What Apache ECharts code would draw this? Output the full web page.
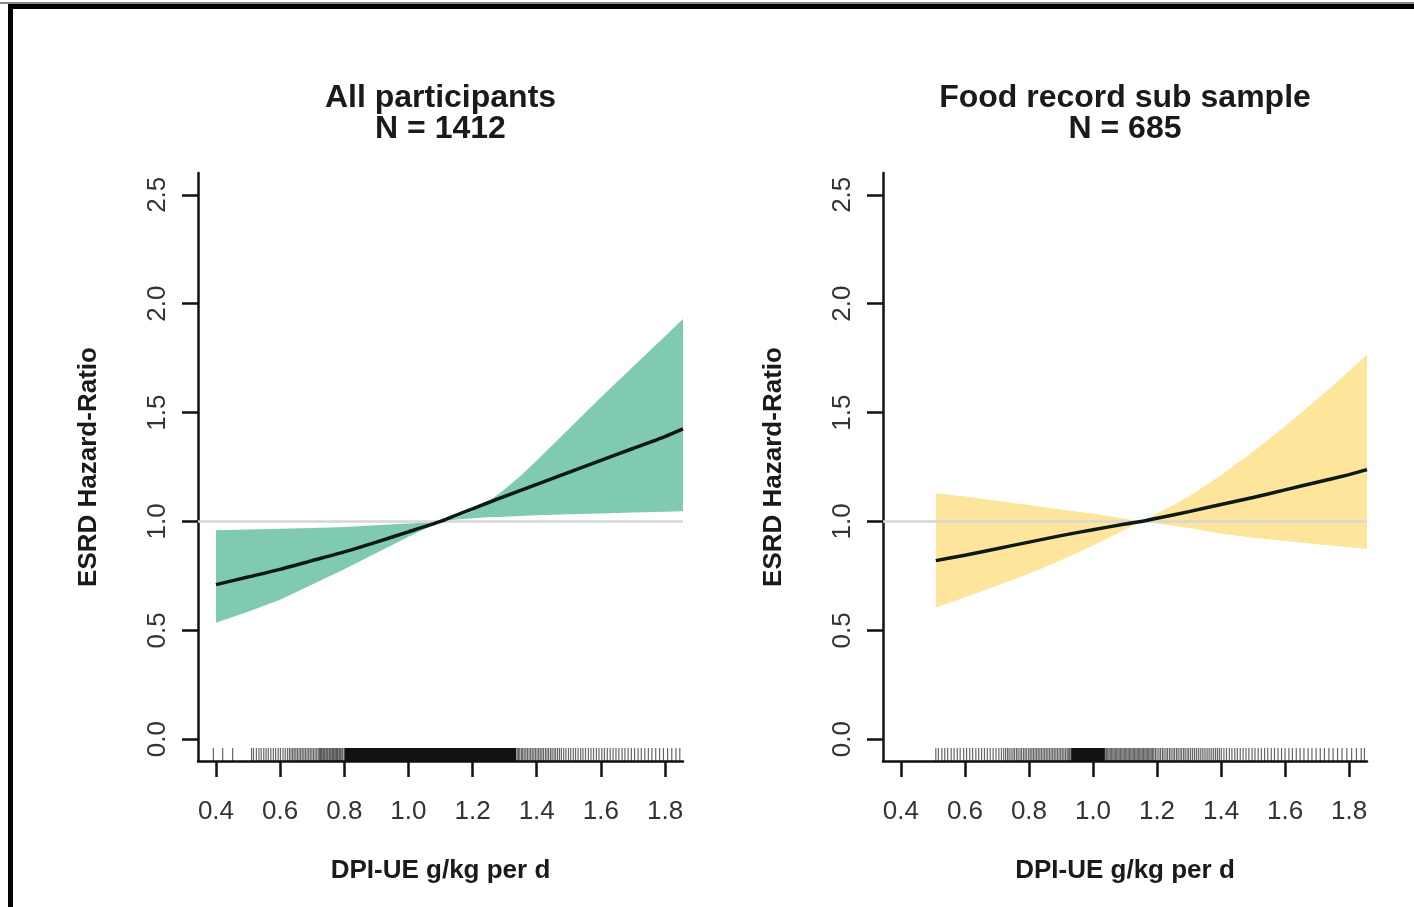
<!DOCTYPE html>
<html>
<head>
<meta charset="utf-8">
<script src="https://cdn.jsdelivr.net/npm/echarts@6/dist/echarts.min.js"></script>
<style>
html,body{margin:0;padding:0;background:#fff;}
#chart{width:1414px;height:907px;}
</style>
</head>
<body>
<div id="chart"></div>
<script>
// ---------- data ----------
const panelTitles = ['All participants\nN = 1412', 'Food record sub sample\nN = 685'];
const xAxisTitle = 'DPI-UE g/kg per d';
const yAxisTitle = 'ESRD Hazard-Ratio';
const xTicks = [0.4, 0.6, 0.8, 1.0, 1.2, 1.4, 1.6, 1.8];
const yTicks = [0.0, 0.5, 1.0, 1.5, 2.0, 2.5];
const refLevel = 1.0;

// Left panel: all participants
const xLeft     = [0.40, 0.50, 0.60, 0.70, 0.80, 0.90, 1.00, 1.10, 1.15, 1.20, 1.25, 1.30, 1.35, 1.40, 1.50, 1.60, 1.70, 1.80, 1.856];
const fitLeft   = [0.71, 0.745, 0.78, 0.82, 0.86, 0.905, 0.952, 1.00, 1.029, 1.058, 1.087, 1.115, 1.143, 1.17, 1.225, 1.28, 1.335, 1.39, 1.425];
const lowerLeft = [0.535, 0.585, 0.64, 0.71, 0.78, 0.855, 0.93, 1.00, 1.009, 1.015, 1.019, 1.022, 1.025, 1.028, 1.033, 1.037, 1.041, 1.045, 1.047];
const upperLeft = [0.96, 0.963, 0.966, 0.97, 0.975, 0.982, 0.99, 1.00, 1.018, 1.048, 1.092, 1.148, 1.21, 1.28, 1.425, 1.57, 1.71, 1.85, 1.93];

// Right panel: food record sub sample
const xRight     = [0.509, 0.60, 0.70, 0.80, 0.90, 1.00, 1.10, 1.15, 1.20, 1.30, 1.40, 1.50, 1.60, 1.70, 1.80, 1.856];
const fitRight   = [0.82, 0.845, 0.875, 0.905, 0.935, 0.962, 0.988, 1.00, 1.015, 1.045, 1.078, 1.11, 1.145, 1.18, 1.215, 1.238];
const lowerRight = [0.605, 0.652, 0.705, 0.76, 0.822, 0.89, 0.962, 1.00, 0.99, 0.97, 0.945, 0.925, 0.91, 0.895, 0.882, 0.875];
const upperRight = [1.13, 1.115, 1.095, 1.075, 1.055, 1.035, 1.012, 1.00, 1.035, 1.115, 1.212, 1.32, 1.437, 1.56, 1.69, 1.765];

// Rug marks (individual observations) and ranges where marks merge into solid black
const rugLeft = [0.392, 0.421, 0.452,
 0.511, 0.517, 0.526, 0.534, 0.541, 0.549, 0.556, 0.563, 0.571, 0.579, 0.586, 0.594, 0.601, 0.609, 0.616, 0.623,
 0.629, 0.634, 0.639, 0.644, 0.649, 0.654, 0.659, 0.664, 0.669, 0.674, 0.679, 0.684, 0.689, 0.694, 0.699, 0.704, 0.709, 0.714, 0.719,
 0.723, 0.726, 0.729, 0.733, 0.736, 0.739, 0.743, 0.746, 0.749, 0.753, 0.756, 0.759, 0.763, 0.766, 0.769, 0.773, 0.776, 0.779, 0.783, 0.786, 0.789, 0.793, 0.796,
 1.339, 1.343, 1.347, 1.352, 1.356, 1.361, 1.366, 1.371, 1.376, 1.381, 1.386, 1.391, 1.396, 1.401, 1.406, 1.411, 1.416, 1.421, 1.427, 1.432, 1.437, 1.443, 1.448, 1.454, 1.459, 1.465, 1.471, 1.477,
 1.484, 1.491, 1.499, 1.506, 1.514, 1.521, 1.529, 1.537, 1.544, 1.552, 1.561, 1.569, 1.577, 1.586, 1.594, 1.603, 1.611, 1.620, 1.629, 1.638, 1.647, 1.656, 1.666, 1.675, 1.685, 1.695, 1.705, 1.716, 1.726, 1.737, 1.748, 1.759, 1.771, 1.783, 1.795, 1.808, 1.821, 1.834, 1.846];
const rugBlockLeft = [[0.80, 1.336]];

const rugRight = [0.509, 0.517, 0.528, 0.537, 0.546, 0.557, 0.566, 0.576, 0.585, 0.596, 0.605, 0.615, 0.624, 0.634, 0.643, 0.652, 0.661, 0.670, 0.679, 0.688, 0.697, 0.706, 0.714,
 0.721, 0.727, 0.733, 0.738, 0.744, 0.750, 0.755, 0.761, 0.766, 0.772, 0.777, 0.783, 0.788, 0.793, 0.799, 0.804, 0.809, 0.814, 0.819, 0.824, 0.829, 0.834, 0.839, 0.844, 0.849, 0.854, 0.859, 0.864, 0.869, 0.874, 0.879, 0.884, 0.889, 0.894, 0.899, 0.904, 0.909, 0.914, 0.919,
 0.923, 0.927, 0.931,
 1.038, 1.042, 1.046, 1.050, 1.054, 1.058, 1.062, 1.066, 1.070, 1.074, 1.078, 1.082, 1.086, 1.090, 1.094, 1.098, 1.102, 1.106, 1.110, 1.114, 1.118, 1.122, 1.126, 1.130, 1.134, 1.138, 1.142, 1.146, 1.150, 1.154, 1.158, 1.162, 1.166, 1.170, 1.174, 1.178, 1.182, 1.186, 1.190,
 1.195, 1.200, 1.206, 1.211, 1.217, 1.222, 1.228, 1.233, 1.239, 1.244, 1.250, 1.255, 1.261, 1.266, 1.272, 1.277, 1.283, 1.288, 1.294, 1.299, 1.305, 1.311, 1.317, 1.323, 1.329, 1.335, 1.341, 1.347, 1.353, 1.359, 1.365, 1.371, 1.377, 1.383, 1.389, 1.395, 1.401,
 1.409, 1.417, 1.426, 1.434, 1.443, 1.451, 1.460, 1.469, 1.478, 1.487, 1.497, 1.506, 1.516, 1.526, 1.536, 1.546, 1.557, 1.567, 1.578, 1.589, 1.600, 1.612, 1.623, 1.635, 1.647, 1.659, 1.672, 1.684, 1.697, 1.710, 1.723, 1.737, 1.750, 1.764, 1.778, 1.793, 1.808, 1.823, 1.838, 1.848];
const rugBlockRight = [[0.932, 1.037]];

// ---------- styling ----------
const FONT = "'Liberation Sans', Arial, Helvetica, sans-serif";
const X_MIN = 0.344, X_MAX = 1.856, Y_MIN = -0.1, Y_MAX = 2.6;
const RUG_LEN = 13;
const bandColors = ['#80cbb0', '#fde59b'];
const grids = [
  {left: 198, top: 173, width: 485, height: 588},
  {left: 883, top: 173, width: 484, height: 588}
];

function makeXAxis(i) {
  return {
    type: 'value', gridIndex: i, min: X_MIN, max: X_MAX,
    name: xAxisTitle, nameLocation: 'middle', nameGap: 97,
    nameTextStyle: {fontFamily: FONT, fontSize: 26, fontWeight: 'bold', color: '#1a1a1a'},
    axisLine: {show: true, onZero: false, lineStyle: {color: '#111', width: 2.5}},
    axisTick: {show: true, inside: false, length: 16, customValues: xTicks, lineStyle: {color: '#111', width: 2.5}},
    axisLabel: {show: true, customValues: xTicks, margin: 38, fontFamily: FONT, fontSize: 26, color: '#333',
      formatter: v => Number(v).toFixed(1)},
    splitLine: {show: false}
  };
}
function makeYAxis(i) {
  return {
    type: 'value', gridIndex: i, min: Y_MIN, max: Y_MAX,
    name: yAxisTitle, nameLocation: 'middle', nameGap: 96, nameRotate: 90,
    nameTextStyle: {fontFamily: FONT, fontSize: 26, fontWeight: 'bold', color: '#1a1a1a'},
    axisLine: {show: true, onZero: false, lineStyle: {color: '#111', width: 2.5}},
    axisTick: {show: true, inside: false, length: 16, customValues: yTicks, lineStyle: {color: '#111', width: 2.5}},
    axisLabel: {show: true, customValues: yTicks, rotate: 90, margin: 27, fontFamily: FONT, fontSize: 26, color: '#333',
      formatter: v => Number(v).toFixed(1)},
    splitLine: {show: false}
  };
}

function panelSeries(i, xs, fit, lower, upper, rug, blocks) {
  const bandData = xs.map((x, k) => [x, lower[k], upper[k]]);
  const fitData = xs.map((x, k) => [x, fit[k]]);
  return [
    {type: 'custom', xAxisIndex: i, yAxisIndex: i, data: bandData, encode: {x: 0, y: [1, 2]}, silent: true, z: 1,
      renderItem: function (params, api) {
        if (params.dataIndex !== 0) return null;
        const top = bandData.map(d => api.coord([d[0], d[2]]));
        const bot = bandData.map(d => api.coord([d[0], d[1]])).reverse();
        return {type: 'polygon', shape: {points: top.concat(bot), smooth: 0}, style: {fill: bandColors[i]}};
      }},
    {type: 'line', xAxisIndex: i, yAxisIndex: i, data: [[X_MIN, refLevel], [X_MAX, refLevel]], symbol: 'none',
      lineStyle: {color: '#d6d6d6', width: 2.5}, silent: true, z: 2},
    {type: 'line', xAxisIndex: i, yAxisIndex: i, data: fitData, symbol: 'none', smooth: 0.2,
      lineStyle: {color: '#0d1a14', width: 3.5}, silent: true, z: 3},
    {type: 'custom', xAxisIndex: i, yAxisIndex: i, data: blocks.map(b => [b[0], Y_MIN, b[1]]),
      encode: {x: [0, 2], y: 1}, silent: true, z: 4,
      renderItem: function (params, api) {
        const p0 = api.coord([api.value(0), Y_MIN]);
        const p1 = api.coord([api.value(2), Y_MIN]);
        return {type: 'rect', shape: {x: p0[0], y: p0[1] - RUG_LEN, width: p1[0] - p0[0], height: RUG_LEN},
          style: {fill: '#111'}};
      }},
    {type: 'custom', xAxisIndex: i, yAxisIndex: i, data: rug.map(v => [v, Y_MIN]),
      encode: {x: 0, y: 1}, silent: true, z: 4,
      renderItem: function (params, api) {
        const p = api.coord([api.value(0), Y_MIN]);
        return {type: 'line', shape: {x1: p[0], y1: p[1], x2: p[0], y2: p[1] - RUG_LEN},
          style: {stroke: 'rgba(0,0,0,0.6)', lineWidth: 1.2}};
      }}
  ];
}

const chart = echarts.init(document.getElementById('chart'), null, {renderer: 'canvas'});
chart.setOption({
  animation: false,
  backgroundColor: '#fff',
  title: grids.map((g, i) => ({
    text: panelTitles[i], left: g.left + g.width / 2, top: 83, textAlign: 'center', padding: 0,
    textStyle: {fontFamily: FONT, fontSize: 32, fontWeight: 'bold', color: '#1a1a1a', lineHeight: 31}
  })),
  grid: grids,
  xAxis: [makeXAxis(0), makeXAxis(1)],
  yAxis: [makeYAxis(0), makeYAxis(1)],
  series: [
    ...panelSeries(0, xLeft, fitLeft, lowerLeft, upperLeft, rugLeft, rugBlockLeft),
    ...panelSeries(1, xRight, fitRight, lowerRight, upperRight, rugRight, rugBlockRight)
  ],
  graphic: [
    {type: 'rect', shape: {x: 0, y: 2, width: 1414, height: 2}, style: {fill: '#888'}, silent: true},
    {type: 'rect', shape: {x: 8, y: 4, width: 1406, height: 5}, style: {fill: '#000'}, silent: true},
    {type: 'rect', shape: {x: 8, y: 4, width: 5, height: 903}, style: {fill: '#000'}, silent: true}
  ]
});
</script>
</body>
</html>
